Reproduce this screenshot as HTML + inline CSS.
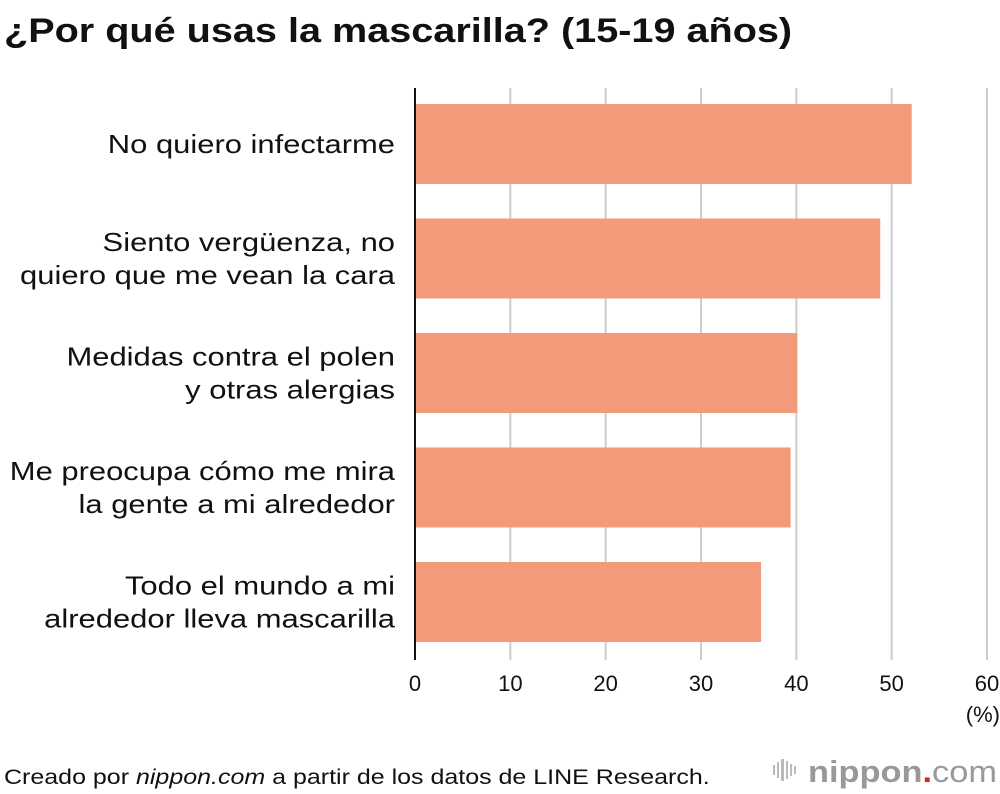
<!DOCTYPE html>
<html><head><meta charset="utf-8"><style>
body{margin:0;background:#fff;font-family:"Liberation Sans",sans-serif;}
svg{display:block}
</style></head><body>
<svg width="1000" height="794" xmlns="http://www.w3.org/2000/svg">
<text class="fit" data-k="1.165" x="4" y="42" font-size="34" font-weight="bold" fill="#111">¿Por qué usas la mascarilla? (15-19 años)</text>
<g id="grid"></g>
<g id="bars"></g>
<g id="labels"></g>
<g id="ticks"></g>
<line x1="415" y1="88" x2="415" y2="660" stroke="#111" stroke-width="2"/>
<text x="1000" y="722" font-size="22" text-anchor="end" fill="#111">(%)</text>
<text class="fit" data-k="1.19" x="4" y="784" font-size="21" fill="#111">Creado por <tspan font-style="italic">nippon.com</tspan> a partir de los datos de LINE Research.</text>
<g>
<g fill="#bbb"><rect x="773" y="765" width="2" height="10"/><rect x="777" y="762" width="2" height="16"/><rect x="781" y="759" width="3" height="22"/><rect x="786" y="761" width="2" height="18"/><rect x="790" y="764" width="2" height="12"/><rect x="794" y="766" width="2" height="8"/></g>
<text x="808" y="782" font-size="31" font-weight="bold" fill="#999" textLength="189" lengthAdjust="spacingAndGlyphs">nippon<tspan fill="#e02020">.</tspan><tspan font-weight="normal">com</tspan></text>
</g>
</svg>
<script>
const categories=[["No quiero infectarme"],["Siento vergüenza, no","quiero que me vean la cara"],["Medidas contra el polen","y otras alergias"],["Me preocupa cómo me mira","la gente a mi alrededor"],["Todo el mundo a mi","alrededor lleva mascarilla"]];
const values=[52.1,48.8,40.1,39.4,36.3];
const tickValues=[0,10,20,30,40,50,60];
const NS="http://www.w3.org/2000/svg";
const x=v=>415+v*(987-415)/60;
const bandY=i=>104+i*114.5;
function mk(t,a,p){const e=document.createElementNS(NS,t);for(const k in a)e.setAttribute(k,a[k]);document.getElementById(p).appendChild(e);return e;}
tickValues.forEach(t=>{
  if(t>0){const l=mk('line',{x1:x(t),x2:x(t),y1:88,y2:660,stroke:'#ccc','stroke-width':2},'grid');
  
  }
  const tx=mk('text',{x:x(t),y:691,'font-size':22,'text-anchor':'middle',fill:'#111'},'ticks');
  tx.textContent=t;
  
  
});
values.forEach((v,i)=>{
  const r=mk('rect',{x:x(0),y:bandY(i),width:x(v)-x(0),height:80,fill:'#f29b7b'},'bars');
  
  
  const lines=categories[i];
  const cy=bandY(i)+40;
  lines.forEach((s,j)=>{
    const t=mk('text',{x:395,y:cy+9+(j-(lines.length-1)/2)*33,'font-size':26,'text-anchor':'end',fill:'#111','data-k':'1.19'},'labels');
    t.textContent=s;
    t.classList.add('fit');
    
    
  });
});
document.querySelectorAll('text.fit').forEach(t=>{
  const w=t.getComputedTextLength();
  t.setAttribute('textLength',w*parseFloat(t.getAttribute('data-k')));
  t.setAttribute('lengthAdjust','spacingAndGlyphs');
});
</script>
</body></html>
